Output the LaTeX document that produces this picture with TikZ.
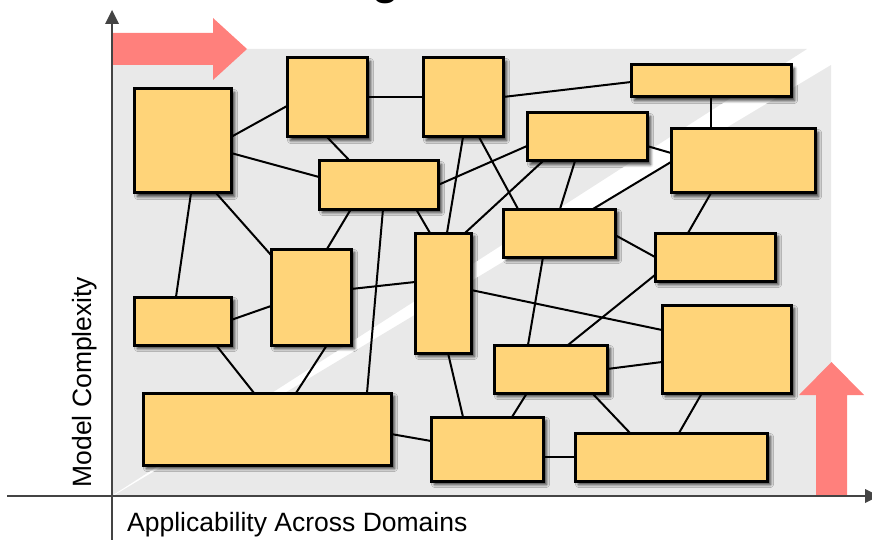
\documentclass[tikz,border=0pt]{standalone}
\usepackage{fontspec}
\setmainfont{Liberation Sans}
\usetikzlibrary{calc,shadows.blur}
\definecolor{boxy}{HTML}{FFD479}
\definecolor{bggray}{HTML}{E9E9E9}
\definecolor{arrred}{HTML}{FF807C}
\definecolor{axisgray}{HTML}{444444}
\pgfdeclarelayer{back}
\pgfdeclarelayer{edges}
\pgfsetlayers{back,edges,main}
\begin{document}
\begin{tikzpicture}[x=1pt,y=-1pt,
  box/.style={draw=black, line width=3pt, fill=boxy, rectangle, inner sep=0pt, outer sep=0pt, anchor=north west,
    blur shadow={shadow xshift=3.5pt, shadow yshift=-3.5pt, shadow blur radius=3pt, shadow blur steps=6, shadow opacity=80}},
  link/.style={line width=2pt, black},
  bigarrow/.style={fill=arrred, draw=none},
  axisline/.style={line width=2pt, axisgray},
  lbl/.style={font=\fontsize{26.5}{30}\selectfont, inner sep=0pt}]
\useasboundingbox (0,0) rectangle (872,540);

% boxes
\node[box, minimum width=97pt,  minimum height=104pt] (A) at (134,89) {};
\node[box, minimum width=80pt,  minimum height=79pt]  (B) at (287,58) {};
\node[box, minimum width=80pt,  minimum height=79pt]  (C) at (423,58) {};
\node[box, minimum width=160pt, minimum height=32pt]  (D) at (631,65) {};
\node[box, minimum width=120pt, minimum height=48pt]  (E) at (527,113) {};
\node[box, minimum width=144pt, minimum height=64pt]  (F) at (671,129) {};
\node[box, minimum width=119pt, minimum height=48pt]  (G) at (319,161) {};
\node[box, minimum width=112pt, minimum height=48pt]  (H) at (503,209) {};
\node[box, minimum width=120pt, minimum height=48pt]  (I) at (655,233) {};
\node[box, minimum width=56pt,  minimum height=120pt] (J) at (415,233) {};
\node[box, minimum width=80pt,  minimum height=96pt]  (K) at (271,249) {};
\node[box, minimum width=97pt,  minimum height=48pt]  (L) at (134,297) {};
\node[box, minimum width=129pt, minimum height=88pt]  (M) at (662,305) {};
\node[box, minimum width=113pt, minimum height=48pt]  (N) at (494,345) {};
\node[box, minimum width=248pt, minimum height=72pt]  (O) at (143,393) {};
\node[box, minimum width=112pt, minimum height=64pt]  (P) at (431,417) {};
\node[box, minimum width=192pt, minimum height=48pt]  (Q) at (575,433) {};

% title fragment
\node[font=\bfseries\fontsize{44}{44}\selectfont, anchor=base, inner sep=0pt] (title) at (386,-5) {g};

% labels
\node[lbl, anchor=base west] (xlabel) at (127,531) {Applicability Across Domains};
\node[lbl, anchor=base, rotate=90] (ylabel) at (91,382) {Model Complexity};

\begin{pgfonlayer}{back}
  % gray background with white diagonal band
  \fill[bggray] (113,49) -- (807,49) -- (113,495) -- cycle;
  \fill[bggray] (831,65) -- (831,496) -- (113,496) -- cycle;
  % red arrows
  \fill[bigarrow] (112,33) -- (213,33) -- (213,18) -- (247,49) -- (213,80) -- (213,65) -- (112,65) -- cycle;
  \fill[bigarrow] (816,496) -- (816,395) -- (799,395) -- (831.5,362) -- (864,395) -- (847,395) -- (847,496) -- cycle;
  % axes
  \coordinate (yb) at (112,540);
  \coordinate (yt) at (112,24);
  \coordinate (xl) at (7,496);
  \coordinate (xr) at (865,496);
  \draw[axisline] (yb) -- (yt);
  \fill[axisgray] (105,24) -- (112,10) -- (119,24) -- cycle;
  \draw[axisline] (xl) -- (xr);
  \fill[axisgray] (865,489) -- (879,496) -- (865,503) -- cycle;
\end{pgfonlayer}

\begin{pgfonlayer}{edges}
  \draw[link] ($(A.north west)+(97,48)$) -- ($(B.north west)+(0,48)$);
  \draw[link] ($(A.north west)+(97,64)$) -- ($(G.north west)+(0,16)$);
  \draw[link] ($(A.north west)+(57,104)$) -- ($(L.north west)+(42,0)$);
  \draw[link] ($(A.north west)+(82,104)$) -- ($(K.north west)+(0,6)$);
  \draw[link] ($(B.north west)+(80,39)$) -- ($(C.north west)+(0,39)$);
  \draw[link] ($(B.north west)+(40,79)$) -- ($(G.north west)+(31,0)$);
  \draw[link] ($(C.north west)+(80,39)$) -- ($(D.north west)+(0,17)$);
  \draw[link] ($(C.north west)+(40,79)$) -- ($(J.north west)+(32,0)$);
  \draw[link] ($(C.north west)+(56,79)$) -- ($(H.north west)+(15,0)$);
  \draw[link] ($(D.north west)+(80,32)$) -- ($(F.north west)+(40,0)$);
  \draw[link] ($(G.north west)+(119,24)$) -- ($(E.north west)+(0,33)$);
  \draw[link] ($(E.north west)+(16,48)$) -- ($(J.north west)+(50,0)$);
  \draw[link] ($(E.north west)+(120,33)$) -- ($(F.north west)+(0,24)$);
  \draw[link] ($(E.north west)+(48,48)$) -- ($(H.north west)+(57,0)$);
  \draw[link] ($(H.north west)+(90,0)$) -- ($(F.north west)+(0,33)$);
  \draw[link] ($(F.north west)+(40,64)$) -- ($(I.north west)+(33,0)$);
  \draw[link] ($(G.north west)+(32,48)$) -- ($(K.north west)+(56,0)$);
  \draw[link] ($(G.north west)+(64,48)$) -- ($(O.north west)+(224,0)$);
  \draw[link] ($(G.north west)+(97,48)$) -- ($(J.north west)+(15,0)$);
  \draw[link] ($(L.north west)+(97,23)$) -- ($(K.north west)+(0,57)$);
  \draw[link] ($(K.north west)+(80,40)$) -- ($(J.north west)+(0,49)$);
  \draw[link] ($(H.north west)+(112,26)$) -- ($(I.north west)+(0,24)$);
  \draw[link] ($(H.north west)+(40,48)$) -- ($(N.north west)+(34,0)$);
  \draw[link] ($(I.north west)+(0,42)$) -- ($(N.north west)+(74,0)$);
  \draw[link] ($(J.north west)+(56,57)$) -- ($(M.north west)+(0,25)$);
  \draw[link] ($(J.north west)+(33,120)$) -- ($(P.north west)+(32,0)$);
  \draw[link] ($(L.north west)+(82,48)$) -- ($(O.north west)+(111,0)$);
  \draw[link] ($(K.north west)+(56,96)$) -- ($(O.north west)+(153,0)$);
  \draw[link] ($(O.north west)+(248,41)$) -- ($(P.north west)+(0,24)$);
  \draw[link] ($(N.north west)+(33,48)$) -- ($(P.north west)+(81,0)$);
  \draw[link] ($(N.north west)+(113,24)$) -- ($(M.north west)+(0,57)$);
  \draw[link] ($(N.north west)+(98,48)$) -- ($(Q.north west)+(55,0)$);
  \draw[link] ($(M.north west)+(40,88)$) -- ($(Q.north west)+(104,0)$);
  \draw[link] ($(P.north west)+(112,40)$) -- ($(Q.north west)+(0,24)$);
\end{pgfonlayer}
\end{tikzpicture}
\end{document}
